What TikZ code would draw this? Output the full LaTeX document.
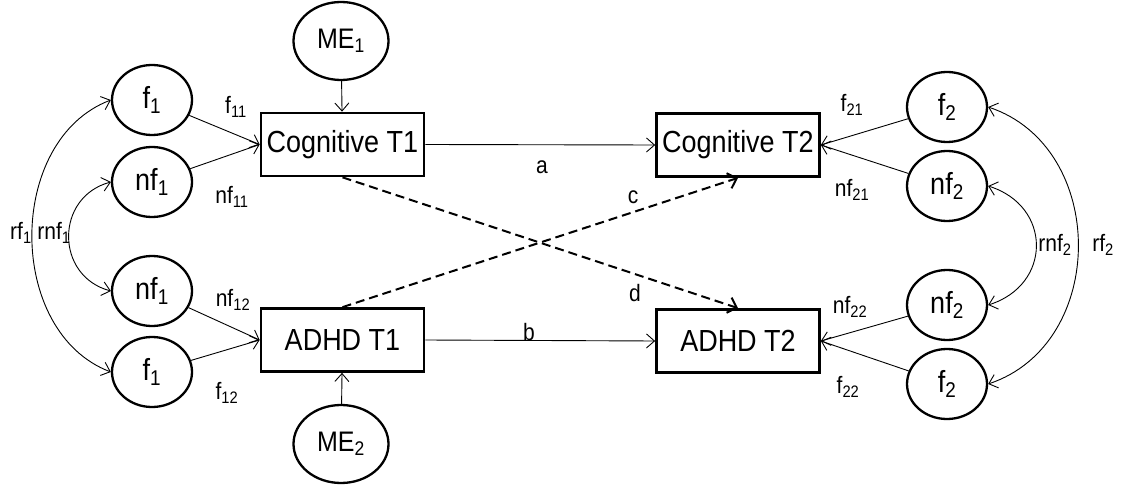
\documentclass[tikz,border=0pt]{standalone}
\usepackage{fontspec}
\usepackage{graphicx}
\setmainfont{Liberation Sans}
\usetikzlibrary{shapes.geometric,arrows.meta}
\newcommand{\sbs}[1]{\textsubscript{#1}}
\newcommand{\vs}[1]{\scalebox{1}[1.13]{#1}}
\begin{document}
\begin{tikzpicture}[x=1pt,y=-1pt,
 lat/.style={ellipse,draw,line width=2.3pt,minimum width=80pt,minimum height=70pt,inner sep=0pt,font=\fontsize{27}{29}\selectfont},
 me/.style={lat,minimum width=95pt,minimum height=78pt,font=\fontsize{25}{27}\selectfont},
 obs/.style={rectangle,draw,line width=2.7pt,minimum width=163pt,minimum height=63pt,inner sep=0pt,font=\fontsize{27}{30}\selectfont},
 lbl/.style={font=\fontsize{21}{23}\selectfont,inner sep=0pt},
 conn/.style={line width=0.9pt,-{Straight Barb[length=8pt,width=14pt]}},
 cov/.style={line width=0.9pt,{Straight Barb[length=8pt,width=14pt]}-{Straight Barb[length=8pt,width=14pt]}},
 cross/.style={line width=2pt,dash pattern=on 9pt off 5pt,-{Straight Barb[length=8pt,width=16pt]}}]
\useasboundingbox (0,0) rectangle (1121,486);

% observed boxes
\node[obs] (c1) at (342.5,144.5) {\vs{Cognitive T1}};
\node[obs] (a1) at (342.5,340) {\vs{ADHD T1}};
\node[obs] (c2) at (738,145) {\vs{Cognitive T2}};
\node[obs] (a2) at (738,341) {\vs{ADHD T2}};

% measurement error
\node[me] (me1) at (341,41) {\vs{ME\sbs{1}}};
\node[me] (me2) at (341,444) {\vs{ME\sbs{2}}};

% left latent factors
\node[lat] (f1a) at (152,100) {\vs{f\sbs{1}}};
\node[lat] (nf1a) at (152,182) {\vs{nf\sbs{1}}};
\node[lat] (nf1b) at (152,291) {\vs{nf\sbs{1}}};
\node[lat] (f1b) at (152,372) {\vs{f\sbs{1}}};

% right latent factors
\node[lat] (f2a) at (947,107) {\vs{f\sbs{2}}};
\node[lat] (nf2a) at (947,186) {\vs{nf\sbs{2}}};
\node[lat] (nf2b) at (947,305) {\vs{nf\sbs{2}}};
\node[lat] (f2b) at (947,384) {\vs{f\sbs{2}}};

% loadings
\draw[conn] (f1a) -- (c1.west);
\draw[conn] (nf1a) -- (c1.west);
\draw[conn] (nf1b) -- (a1.west);
\draw[conn] (f1b) -- (a1.west);
\draw[conn] (f2a) -- (c2.east);
\draw[conn] (nf2a) -- (c2.east);
\draw[conn] (nf2b) -- (a2.east);
\draw[conn] (f2b) -- (a2.east);
\draw[conn] (me1) -- (c1);
\draw[conn] (me2) -- (a1);

% paths
\draw[conn] (c1.east) -- (c2.west);
\draw[conn] (a1.east) -- (a2.west);
\draw[cross] (c1.south) -- (a2.north);
\draw[cross] (a1.north) -- (c2.south);

% covariances
\draw[cov] (f1a.west) .. controls +(-105,40) and +(-105,-40) .. (f1b.west);
\draw[cov] (nf1a.west) .. controls +(-56,15) and +(-56,-15) .. (nf1b.west);
\draw[cov] (nf2a.east) .. controls +(64,20) and +(64,-20) .. (nf2b.east);
\draw[cov] (f2a.east) .. controls +(120,40) and +(120,-40) .. (f2b.east);

% labels
\node[lbl] (lf11) at (236,107) {\vs{f\sbs{11}}};
\node[lbl] (lnf11) at (232,197) {\vs{nf\sbs{11}}};
\node[lbl] (lnf12) at (233,300) {\vs{nf\sbs{12}}};
\node[lbl] (lf12) at (227,393) {\vs{f\sbs{12}}};
\node[lbl] (lrf1) at (21,233) {\vs{rf\sbs{1}}};
\node[lbl] (lrnf1) at (54,233) {\vs{rnf\sbs{1}}};
\node[lbl] (lf21) at (852,105) {\vs{f\sbs{21}}};
\node[lbl] (lnf21) at (852,190) {\vs{nf\sbs{21}}};
\node[lbl] (lnf22) at (850,307) {\vs{nf\sbs{22}}};
\node[lbl] (lf22) at (848,387) {\vs{f\sbs{22}}};
\node[lbl] (lrnf2) at (1055,245) {\vs{rnf\sbs{2}}};
\node[lbl] (lrf2) at (1103,245) {\vs{rf\sbs{2}}};
\node[lbl] (la) at (542,167) {\vs{a}};
\node[lbl] (lb) at (529,332) {\vs{b}};
\node[lbl] (lc) at (633,197) {\vs{c}};
\node[lbl] (ld) at (635,293) {\vs{d}};
\end{tikzpicture}
\end{document}
